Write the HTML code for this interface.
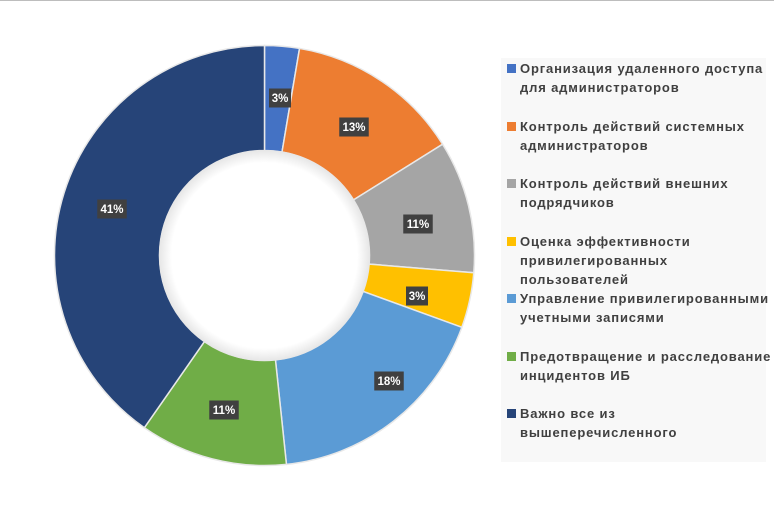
<!DOCTYPE html>
<html><head><meta charset="utf-8"><style>
body{margin:0;width:774px;height:511px;background:#fff;overflow:hidden;font-family:"Liberation Sans",sans-serif;position:relative}
.top{position:absolute;left:0;top:0;width:774px;height:1px;background:#bdbdbd}
.leg{position:absolute;left:501px;top:58px;width:265px;height:404px;background:#f8f8f8}
.it{position:absolute;left:19px;font-size:13px;font-weight:bold;color:#404040;line-height:19px;width:252px;letter-spacing:0.85px}
.sq{position:absolute;left:-13px;top:5px;width:9px;height:9px}
</style></head><body>
<div class="top"></div>
<svg width="774" height="511" style="position:absolute;left:0;top:0">
<defs><radialGradient id="g" cx="50%" cy="50%" r="50%"><stop offset="88%" stop-color="#fff"/><stop offset="100%" stop-color="#e6e6e6"/></radialGradient></defs>
<g id="d" stroke="#e8e8e8" stroke-width="1.5"></g>
<circle cx="264.5" cy="255.5" r="105.5" fill="url(#g)"/>
<g id="l" font-family="Liberation Sans" font-weight="bold" font-size="11.5" fill="#fff" text-anchor="middle"></g>
</svg>
<div class="leg">
<div class="it" style="top:1px"><span class="sq" style="background:#4472c4"></span>Организация удаленного доступа для администраторов</div>
<div class="it" style="top:59px"><span class="sq" style="background:#ed7d31"></span>Контроль действий системных администраторов</div>
<div class="it" style="top:116px"><span class="sq" style="background:#a5a5a5"></span>Контроль действий внешних подрядчиков</div>
<div class="it" style="top:174px"><span class="sq" style="background:#ffc000"></span>Оценка эффективности привилегированных пользователей</div>
<div class="it" style="top:231px"><span class="sq" style="background:#5b9bd5"></span>Управление привилегированными учетными записями</div>
<div class="it" style="top:289px"><span class="sq" style="background:#70ad47"></span>Предотвращение и расследование инцидентов ИБ</div>
<div class="it" style="top:346px"><span class="sq" style="background:#264478"></span>Важно все из вышеперечисленного</div>
</div>
<script>
var cx=264.5,cy=255.5,R=210,r=105;
var b=[0,9.6,58,94.7,110,174,214.9,360];
var c=["#4472c4","#ed7d31","#a5a5a5","#ffc000","#5b9bd5","#70ad47","#264478"];
function p(a,rr){a=a*Math.PI/180;return [cx+rr*Math.sin(a),cy-rr*Math.cos(a)];}
var g=document.getElementById('d'),s='';
for(var i=0;i<7;i++){var a0=b[i],a1=b[i+1],lg=(a1-a0)>180?1:0;
var A=p(a0,R),B=p(a1,R),C=p(a1,r),D=p(a0,r);
s+='<path fill="'+c[i]+'" d="M'+A+' A'+R+','+R+' 0 '+lg+' 1 '+B+' L'+C+' A'+r+','+r+' 0 '+lg+' 0 '+D+' Z"/>';}
g.innerHTML=s;
var L=[[280,98,"3%"],[354,127,"13%"],[418,224,"11%"],[417,296,"3%"],[389,381,"18%"],[224,410,"11%"],[112,209,"41%"]],t='';
L.forEach(function(q){var w=q[2].length*7.5+7;t+='<rect x="'+(q[0]-w/2)+'" y="'+(q[1]-9.5)+'" width="'+w+'" height="19" fill="#404040"/><text x="'+q[0]+'" y="'+(q[1]+4)+'">'+q[2]+'</text>';});
document.getElementById('l').innerHTML=t;
</script>
</body></html>
